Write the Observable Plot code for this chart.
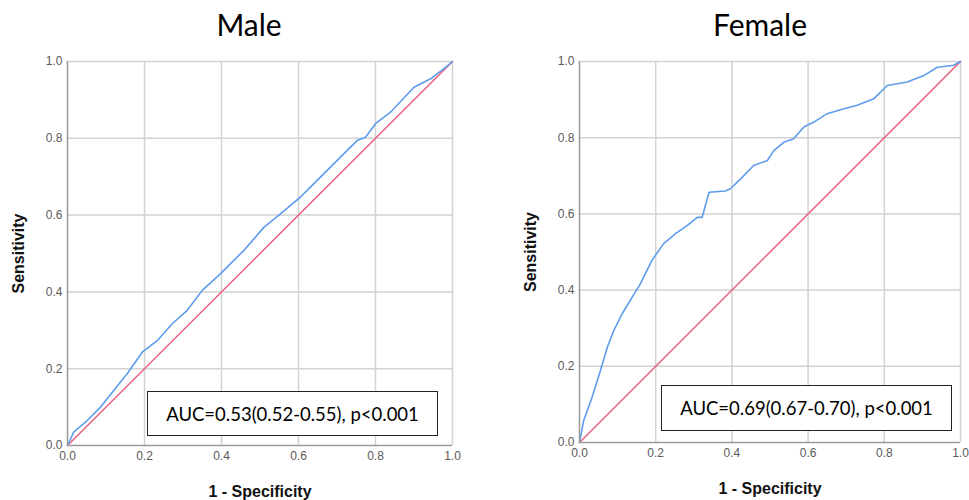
<!DOCTYPE html>
<html>
<head>
<meta charset="utf-8">
<script src="https://cdn.jsdelivr.net/npm/d3@7"></script>
<script src="https://cdn.jsdelivr.net/npm/@observablehq/plot@0.6"></script>
<style>
  html, body { margin: 0; padding: 0; background: #fff; }
  #wrap { position: relative; width: 969px; height: 500px; overflow: hidden; }
  .panel { position: absolute; top: 0; }
  .title { position: absolute; font-family: Lato, "Open Sans", sans-serif; font-size: 30px; color: #000; text-align: center; width: 200px; top: 6px; }
  .auc { position: absolute; box-sizing: border-box; border: 1.5px solid #222; background: #fff;
         font-family: Lato, "Open Sans", sans-serif; font-size: 18.5px; color: #000;
         display: flex; align-items: center; justify-content: center; }
</style>
</head>
<body>
<div id="wrap"></div>
<script>
// ---- data ----
const panelTitles = ["Male", "Female"];
const aucLabels = ["AUC=0.53(0.52-0.55), p<0.001", "AUC=0.69(0.67-0.70), p<0.001"];
const tickValues = [0, 0.2, 0.4, 0.6, 0.8, 1.0];
const xLabel = "1 - Specificity";
const yLabel = "Sensitivity";

const maleFPR = [0, 0.016, 0.051, 0.086, 0.12, 0.155, 0.194, 0.233, 0.272, 0.311, 0.35, 0.397, 0.423, 0.458, 0.51, 0.553, 0.605, 0.631, 0.683, 0.752, 0.774, 0.8, 0.839, 0.9, 0.943, 0.977, 1];
const maleTPR = [0, 0.035, 0.065, 0.1, 0.143, 0.187, 0.243, 0.273, 0.317, 0.352, 0.404, 0.447, 0.473, 0.508, 0.568, 0.603, 0.647, 0.673, 0.725, 0.794, 0.803, 0.838, 0.868, 0.933, 0.955, 0.981, 1];

const femaleFPR = [0, 0.011, 0.033, 0.055, 0.073, 0.09, 0.112, 0.138, 0.16, 0.19, 0.221, 0.252, 0.283, 0.309, 0.322, 0.34, 0.383, 0.396, 0.423, 0.457, 0.493, 0.51, 0.536, 0.562, 0.589, 0.615, 0.65, 0.694, 0.729, 0.772, 0.808, 0.86, 0.904, 0.939, 0.982, 1];
const femaleTPR = [0, 0.058, 0.119, 0.189, 0.25, 0.294, 0.338, 0.381, 0.417, 0.478, 0.522, 0.548, 0.57, 0.591, 0.591, 0.657, 0.66, 0.666, 0.692, 0.727, 0.74, 0.766, 0.788, 0.797, 0.828, 0.841, 0.863, 0.876, 0.885, 0.902, 0.937, 0.946, 0.963, 0.985, 0.990, 1];

const refX = [0, 1];
const refY = [0, 1];

// ---- layout ----
const layouts = [
  { left: 0,   width: 484, mL: 67, mR: 32, mT: 61, mB: 55, titleX: 249, box: { l: 147, t: 391, w: 291, h: 45 } },
  { left: 484, width: 485, mL: 95, mR: 9,  mT: 61, mB: 58, titleX: 760, box: { l: 661, t: 385, w: 291, h: 46 } }
];
const series = [
  { fpr: maleFPR, tpr: maleTPR },
  { fpr: femaleFPR, tpr: femaleTPR }
];

const wrap = document.getElementById("wrap");
const blue = "#5e9cec";
const red = "#e8607c";
const gridColor = "#d2d2d2";
const axisColor = "#9a9a9a";
const sansArial = "Arial, 'Liberation Sans', sans-serif";

series.forEach((s, i) => {
  const L = layouts[i];
  const curve = s.fpr.map((x, k) => ({ x, y: s.tpr[k] }));
  const diag = refX.map((x, k) => ({ x, y: refY[k] }));
  const chart = Plot.plot({
    width: L.width,
    height: 500,
    marginLeft: L.mL, marginRight: L.mR, marginTop: L.mT, marginBottom: L.mB,
    style: { fontFamily: sansArial, fontSize: "12px", color: "#5a5a5a", background: "transparent" },
    x: { domain: [0, 1] },
    y: { domain: [0, 1] },
    marks: [
      Plot.gridX(tickValues.slice(1), { stroke: gridColor, strokeOpacity: 1, strokeWidth: 1.5 }),
      Plot.gridY(tickValues.slice(1), { stroke: gridColor, strokeOpacity: 1, strokeWidth: 1.5 }),
      Plot.axisX(tickValues, { tickFormat: d3.format(".1f"), tickSize: 0, tickPadding: 6, label: null }),
      Plot.axisY(tickValues, { tickFormat: d3.format(".1f"), tickSize: 0, tickPadding: 5, label: null }),
      Plot.line(diag, { x: "x", y: "y", stroke: red, strokeWidth: 1.5 }),
      Plot.line(curve, { x: "x", y: "y", stroke: blue, strokeWidth: 1.6 }),
      Plot.ruleX([0], { stroke: axisColor, strokeWidth: 1.5 }),
      Plot.ruleY([0], { stroke: axisColor, strokeWidth: 1.5 }),
      Plot.text([xLabel], { frameAnchor: "bottom", lineAnchor: "middle", textAnchor: "middle", dy: 46, fontWeight: "bold", fontSize: 16, fill: "#111", fontFamily: sansArial }),
      Plot.text([yLabel], { frameAnchor: "left", lineAnchor: "middle", textAnchor: "middle", dx: -49, rotate: -90, fontWeight: "bold", fontSize: 16, fill: "#111", fontFamily: sansArial })
    ]
  });
  chart.classList.add("panel");
  chart.style.left = L.left + "px";
  wrap.appendChild(chart);

  const t = document.createElement("div");
  t.className = "title";
  t.textContent = panelTitles[i];
  t.style.left = (L.titleX - 100) + "px";
  wrap.appendChild(t);

  const b = document.createElement("div");
  b.className = "auc";
  b.textContent = aucLabels[i];
  b.style.left = L.box.l + "px";
  b.style.top = L.box.t + "px";
  b.style.width = L.box.w + "px";
  b.style.height = L.box.h + "px";
  wrap.appendChild(b);
});
</script>
</body>
</html>
